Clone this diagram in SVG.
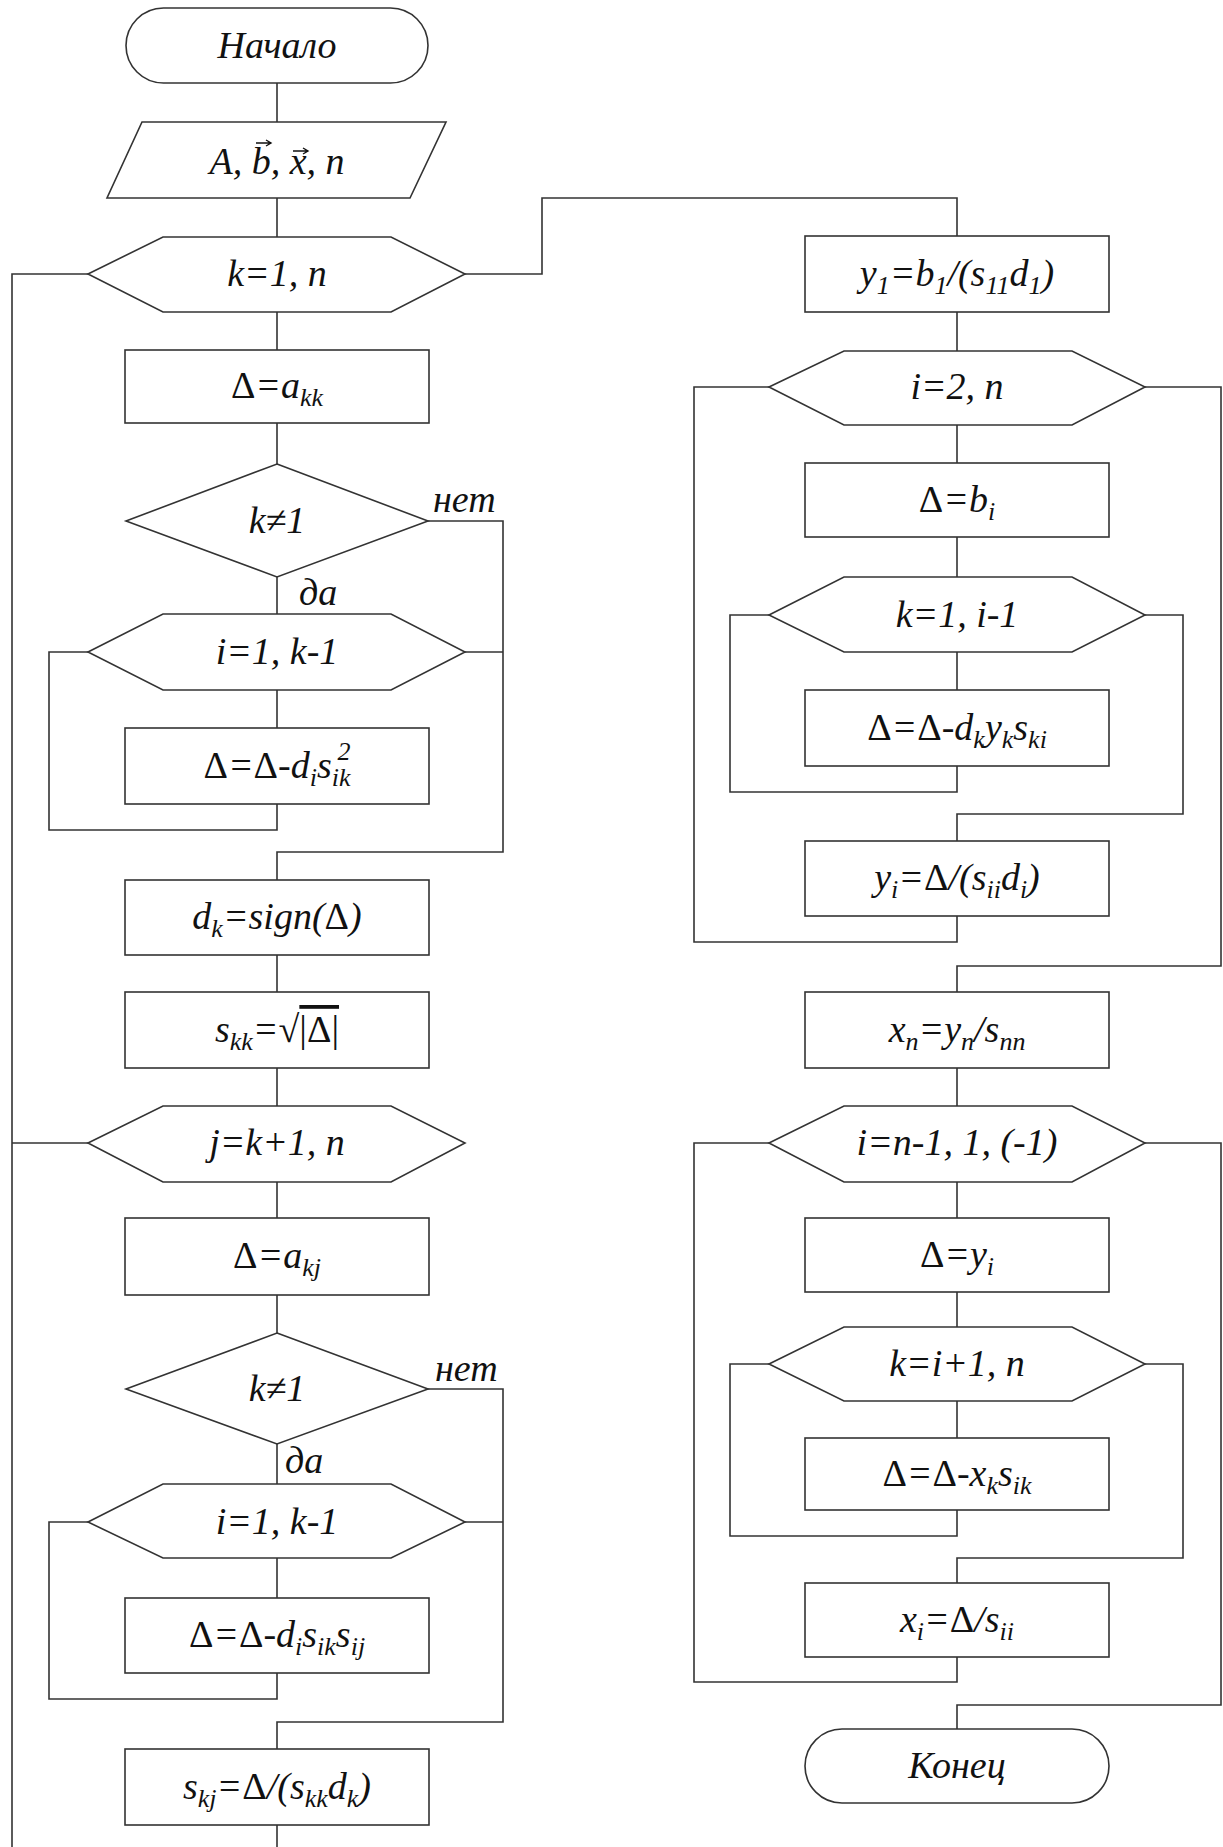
<svg xmlns="http://www.w3.org/2000/svg" width="1223" height="1847" viewBox="0 0 1223 1847">
<style>
.n{fill:#fff;stroke:#333;stroke-width:1.6}
.c{fill:none;stroke:#333;stroke-width:1.6}
.v{fill:none;stroke:#111;stroke-width:1.4}
.t{font-family:"Liberation Serif","Times New Roman",serif;font-style:italic;font-size:38px;fill:#111;text-anchor:middle}
.l{font-family:"Liberation Serif","Times New Roman",serif;font-style:italic;font-size:38px;fill:#111}
.u{font-style:normal}
.s{font-size:26px}
</style>
<rect width="1223" height="1847" fill="#fff"/>
<g id="connectors" class="c">
<path d="M277 83V122M277 198V237M277 312V350M277 423V464M277 577V614M277 690V728M277 955V992M277 1068V1106M277 1182V1218M277 1295V1333M277 1444V1484M277 1558V1598M277 1825V1847"/>
<path d="M88 274H12V1847M88 1143H12"/>
<path d="M465 274H542V198H957V236"/>
<path d="M427 521H503V852H277V880M465 652H503"/>
<path d="M88 652H49V830H277V804"/>
<path d="M427 1389H503V1722H277V1749M465 1522H503"/>
<path d="M88 1522H49V1699H277V1673"/>
<path d="M957 312V351M957 425V463M957 537V577M957 652V690M957 1068V1106M957 1182V1218M957 1292V1327M957 1401V1438"/>
<path d="M769 387H694V942H957V916"/>
<path d="M1145 387H1221V966H957V992"/>
<path d="M769 615H730V792H957V766"/>
<path d="M1145 615H1183V814H957V841"/>
<path d="M769 1143H694V1682H957V1657"/>
<path d="M1145 1143H1221V1705H957V1729"/>
<path d="M769 1364H730V1536H957V1510"/>
<path d="M1145 1364H1183V1558H957V1583"/>
</g>
<g id="start"><rect class="n" x="126" y="8" width="302" height="75" rx="37.5"/><text class="t" x="277" y="58">Начало</text></g>
<g id="input"><polygon class="n" points="142,122 446,122 410,198 107,198"/><text class="t" x="277" y="174">A, b, x, n</text><path class="v" d="M256 143H271M266 140L271 143L266 146M293 151H308M303 148L308 151L303 154"/></g>
<g id="loop_k"><polygon class="n" points="88,274 163,237 391,237 465,274 391,312 163,312"/><text class="t" x="277" y="286">k=1, n</text></g>
<g id="delta_akk"><rect class="n" x="125" y="350" width="304" height="73"/><text class="t" x="277" y="398"><tspan class="u">Δ</tspan>=a<tspan class="s" dy="8">kk</tspan></text></g>
<g id="cond1"><polygon class="n" points="277,464 428,521 277,577 126,521"/><text class="t" x="277" y="533">k≠1</text><text class="l" x="433" y="512">нет</text><text class="l" x="299" y="605">да</text></g>
<g id="loop_i1"><polygon class="n" points="88,652 163,614 391,614 465,652 391,690 163,690"/><text class="t" x="277" y="664">i=1, k-1</text></g>
<g id="delta_sq"><rect class="n" x="125" y="728" width="304" height="76"/><text class="t" x="277" y="778"><tspan class="u">Δ</tspan>=<tspan class="u">Δ</tspan>-d<tspan class="s" dy="8">i</tspan><tspan dy="-8">s</tspan><tspan class="s" dy="8">ik</tspan><tspan class="s" dx="-13" dy="-26">2</tspan><tspan dy="18"> </tspan></text></g>
<g id="dk"><rect class="n" x="125" y="880" width="304" height="75"/><text class="t" x="277" y="929">d<tspan class="s" dy="8">k</tspan><tspan dy="-8">=sign(</tspan><tspan class="u">Δ</tspan>)</text></g>
<g id="skk"><rect class="n" x="125" y="992" width="304" height="76"/><text class="t" x="277" y="1042">s<tspan class="s" dy="8">kk</tspan><tspan dy="-8">=√</tspan><tspan class="u" text-decoration="overline">|Δ|</tspan></text></g>
<g id="loop_j"><polygon class="n" points="88,1143 163,1106 391,1106 465,1143 391,1182 163,1182"/><text class="t" x="277" y="1155">j=k+1, n</text></g>
<g id="delta_akj"><rect class="n" x="125" y="1218" width="304" height="77"/><text class="t" x="277" y="1268"><tspan class="u">Δ</tspan>=a<tspan class="s" dy="8">kj</tspan></text></g>
<g id="cond2"><polygon class="n" points="277,1333 428,1389 277,1444 126,1389"/><text class="t" x="277" y="1401">k≠1</text><text class="l" x="435" y="1381">нет</text><text class="l" x="285" y="1473">да</text></g>
<g id="loop_i2"><polygon class="n" points="88,1522 163,1484 391,1484 465,1522 391,1558 163,1558"/><text class="t" x="277" y="1534">i=1, k-1</text></g>
<g id="delta_sij"><rect class="n" x="125" y="1598" width="304" height="75"/><text class="t" x="277" y="1647"><tspan class="u">Δ</tspan>=<tspan class="u">Δ</tspan>-d<tspan class="s" dy="8">i</tspan><tspan dy="-8">s</tspan><tspan class="s" dy="8">ik</tspan><tspan dy="-8">s</tspan><tspan class="s" dy="8">ij</tspan></text></g>
<g id="skj"><rect class="n" x="125" y="1749" width="304" height="76"/><text class="t" x="277" y="1799">s<tspan class="s" dy="8">kj</tspan><tspan dy="-8">=</tspan><tspan class="u">Δ</tspan>/(s<tspan class="s" dy="8">kk</tspan><tspan dy="-8">d</tspan><tspan class="s" dy="8">k</tspan><tspan dy="-8">)</tspan></text></g>
<g id="y1"><rect class="n" x="805" y="236" width="304" height="76"/><text class="t" x="957" y="286">y<tspan class="s" dy="8">1</tspan><tspan dy="-8">=b</tspan><tspan class="s" dy="8">1</tspan><tspan dy="-8">/(s</tspan><tspan class="s" dy="8">11</tspan><tspan dy="-8">d</tspan><tspan class="s" dy="8">1</tspan><tspan dy="-8">)</tspan></text></g>
<g id="loop_i_fwd"><polygon class="n" points="769,387 844,351 1072,351 1145,387 1072,425 844,425"/><text class="t" x="957" y="399">i=2, n</text></g>
<g id="delta_bi"><rect class="n" x="805" y="463" width="304" height="74"/><text class="t" x="957" y="512"><tspan class="u">Δ</tspan>=b<tspan class="s" dy="8">i</tspan></text></g>
<g id="loop_k_fwd"><polygon class="n" points="769,615 844,577 1072,577 1145,615 1072,652 844,652"/><text class="t" x="957" y="627">k=1, i-1</text></g>
<g id="delta_dyk"><rect class="n" x="805" y="690" width="304" height="76"/><text class="t" x="957" y="740"><tspan class="u">Δ</tspan>=<tspan class="u">Δ</tspan>-d<tspan class="s" dy="8">k</tspan><tspan dy="-8">y</tspan><tspan class="s" dy="8">k</tspan><tspan dy="-8">s</tspan><tspan class="s" dy="8">ki</tspan></text></g>
<g id="yi"><rect class="n" x="805" y="841" width="304" height="75"/><text class="t" x="957" y="890">y<tspan class="s" dy="8">i</tspan><tspan dy="-8">=</tspan><tspan class="u">Δ</tspan>/(s<tspan class="s" dy="8">ii</tspan><tspan dy="-8">d</tspan><tspan class="s" dy="8">i</tspan><tspan dy="-8">)</tspan></text></g>
<g id="xn"><rect class="n" x="805" y="992" width="304" height="76"/><text class="t" x="957" y="1042">x<tspan class="s" dy="8">n</tspan><tspan dy="-8">=y</tspan><tspan class="s" dy="8">n</tspan><tspan dy="-8">/s</tspan><tspan class="s" dy="8">nn</tspan></text></g>
<g id="loop_i_back"><polygon class="n" points="769,1143 844,1106 1072,1106 1145,1143 1072,1182 844,1182"/><text class="t" x="957" y="1155">i=n-1, 1, (-1)</text></g>
<g id="delta_yi"><rect class="n" x="805" y="1218" width="304" height="74"/><text class="t" x="957" y="1267"><tspan class="u">Δ</tspan>=y<tspan class="s" dy="8">i</tspan></text></g>
<g id="loop_k_back"><polygon class="n" points="769,1364 844,1327 1072,1327 1145,1364 1072,1401 844,1401"/><text class="t" x="957" y="1376">k=i+1, n</text></g>
<g id="delta_xs"><rect class="n" x="805" y="1438" width="304" height="72"/><text class="t" x="957" y="1486"><tspan class="u">Δ</tspan>=<tspan class="u">Δ</tspan>-x<tspan class="s" dy="8">k</tspan><tspan dy="-8">s</tspan><tspan class="s" dy="8">ik</tspan></text></g>
<g id="xi"><rect class="n" x="805" y="1583" width="304" height="74"/><text class="t" x="957" y="1632">x<tspan class="s" dy="8">i</tspan><tspan dy="-8">=</tspan><tspan class="u">Δ</tspan>/s<tspan class="s" dy="8">ii</tspan></text></g>
<g id="end"><rect class="n" x="805" y="1729" width="304" height="74" rx="37"/><text class="t" x="957" y="1778">Конец</text></g>
</svg>
